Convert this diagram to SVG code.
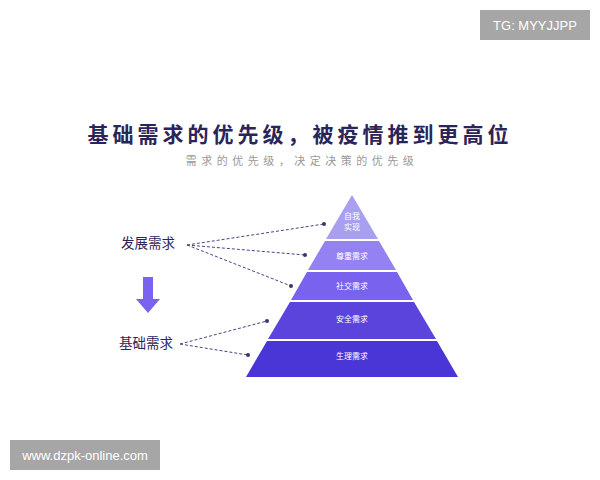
<svg xmlns="http://www.w3.org/2000/svg" width="600" height="480" viewBox="0 0 600 480">
<style>
.cj{font-family:"Noto Sans CJK SC","Noto Sans",sans-serif}
.lv{font-size:8px;fill:#fff;text-anchor:middle}
.lb{font-size:13.5px;fill:#2a2459}
.cn{stroke:#4a4580;stroke-width:1;stroke-dasharray:3 2;fill:none}
.dt{fill:#3a3570}
</style>
<rect width="600" height="480" fill="#fff"/>
<g id="tg"><rect x="480" y="10" width="110" height="30" fill="#a6a6a6"/><text x="535" y="30" font-family="Liberation Sans,sans-serif" font-size="13" fill="#fff" text-anchor="middle">TG: MYYJJPP</text></g>
<g id="title"><text x="300" y="142" class="cj" font-size="21" font-weight="bold" fill="#2a2459" text-anchor="middle" letter-spacing="4">基础需求的优先级，被疫情推到更高位</text>
<text x="302" y="165" class="cj" font-size="11" fill="#999" text-anchor="middle" letter-spacing="4.5">需求的优先级，决定决策的优先级</text></g>
<g id="l1"><polygon points="352,195 378,239 326,239" fill="#a99ff0"/><text x="352" y="219" class="cj lv">自我</text><text x="352" y="230" class="cj lv">实现</text></g>
<g id="l2"><polygon points="325,241 379,241 396,270 308,270" fill="#9582f2"/><text x="352" y="259" class="cj lv">尊重需求</text></g>
<g id="l3"><polygon points="307,272 397,272 413,300 291,300" fill="#7862ee"/><text x="352" y="289" class="cj lv">社交需求</text></g>
<g id="l4"><polygon points="290,302 414,302 436,339 268,339" fill="#5a44dc"/><text x="352" y="322" class="cj lv">安全需求</text></g>
<g id="l5"><polygon points="267,341 437,341 458,377 246,377" fill="#4a35d6"/><text x="352" y="359" class="cj lv">生理需求</text></g>
<g id="dev"><text x="121" y="248" class="cj lb">发展需求</text></g>
<g id="base"><text x="119" y="348" class="cj lb">基础需求</text></g>
<g id="arrow"><polygon points="143,277 153,277 153,299 160,299 148,313 136,299 143,299" fill="#7a63ee"/></g>
<g id="connectors">
<path class="cn" d="M187,245 L324,224 M187,245 L305,255 M187,245 L291,286 M180,344 L267,321 M180,344 L248,355"/>
<circle class="dt" cx="324" cy="224" r="2"/><circle class="dt" cx="305" cy="255" r="2"/><circle class="dt" cx="291" cy="286" r="2"/><circle class="dt" cx="267" cy="321" r="2"/><circle class="dt" cx="248" cy="355" r="2"/>
</g>
<g id="wm"><rect x="10" y="440" width="150" height="30" fill="#a6a6a6"/><text x="85" y="460" font-family="Liberation Sans,sans-serif" font-size="13" fill="#fff" text-anchor="middle">www.dzpk-online.com</text></g>
</svg>
